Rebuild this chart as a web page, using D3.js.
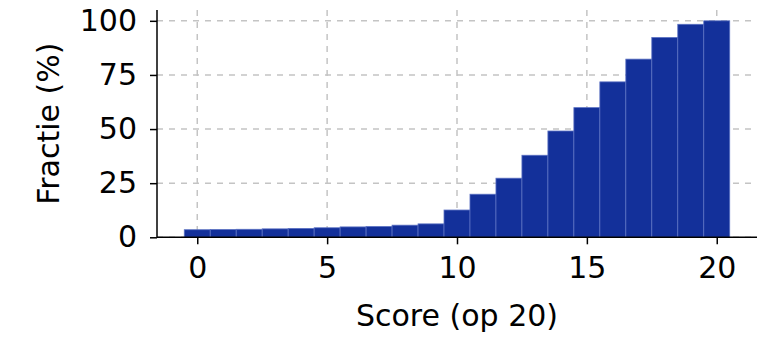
<!DOCTYPE html>
<html>
<head>
<meta charset="utf-8">
<script src="https://cdn.jsdelivr.net/npm/d3@7"></script>
<style>
    body { margin: 0; background: #fff; }
    svg { display: block; }
    text { font-family: "DejaVu Sans", sans-serif; fill: #000; }
    .grid line { stroke: #c4c4c4; stroke-width: 1.5; stroke-dasharray: 6, 6; }
</style>
</head>
<body>
<svg width="778" height="348"></svg>
<script>
// scores 0..20 and cumulative fraction (%)
var scores = d3.range(0, 21);
var fractions = [3.5, 3.6, 3.7, 3.9, 4.1, 4.4, 4.8, 5.0, 5.6, 6.2, 12.6,
    19.9, 27.3, 37.9, 49.1, 59.9, 71.8, 82.3, 92.3, 98.4, 100];
var xTicks = [0, 5, 10, 15, 20];
var yTicks = [0, 25, 50, 75, 100];

var svg = d3.select("svg"),
    plotLeft = 157, plotRight = 757,
    plotTop = 10, plotBottom = 237.3;

var x = d3.scaleLinear().domain([-1.55, 21.55]).range([plotLeft, plotRight]);
var y = d3.scaleLinear().domain([0, 105]).range([plotBottom, plotTop]);

var data = scores.map((s, i) => ({ score: s, value: fractions[i] }));

// grid
var grid = svg.append("g").attr("class", "grid");
grid.selectAll(".gx")
    .data(xTicks)
    .enter().append("line")
    .attr("x1", d => x(d)).attr("x2", d => x(d))
    .attr("y1", plotTop).attr("y2", plotBottom);
grid.selectAll(".gy")
    .data(yTicks)
    .enter().append("line")
    .attr("x1", plotLeft).attr("x2", plotRight)
    .attr("y1", d => y(d)).attr("y2", d => y(d));

// bars
svg.append("g").selectAll("rect")
    .data(data)
    .enter().append("rect")
    .attr("x", d => x(d.score - 0.5))
    .attr("width", d => x(d.score + 0.5) - x(d.score - 0.5))
    .attr("y", d => y(d.value))
    .attr("height", d => y(0) - y(d.value))
    .attr("fill", "#13309a")
    .attr("stroke", "#5a70c2")
    .attr("stroke-width", 0.8);

// axes
var xAxis = d3.axisBottom(x).tickValues(xTicks).tickSize(7).tickPadding(12);
var yAxis = d3.axisLeft(y).tickValues(yTicks).tickSize(7).tickPadding(13);

var gx = svg.append("g")
    .attr("transform", "translate(0," + plotBottom + ")")
    .call(xAxis);
var gy = svg.append("g")
    .attr("transform", "translate(" + plotLeft + ",0)")
    .call(yAxis);

[gx, gy].forEach(g => {
    g.select(".domain").remove();
    g.selectAll(".tick line").attr("stroke", "#000").attr("stroke-width", 1.5);
    g.selectAll(".tick text")
        .style("font-family", "DejaVu Sans")
        .style("font-size", "30px")
        .attr("fill", "#000");
});

// spines
svg.append("line")
    .attr("x1", plotLeft).attr("x2", plotLeft)
    .attr("y1", plotTop).attr("y2", plotBottom)
    .attr("stroke", "#000").attr("stroke-width", 1.5);
svg.append("line")
    .attr("x1", plotLeft).attr("x2", plotRight)
    .attr("y1", plotBottom).attr("y2", plotBottom)
    .attr("stroke", "#000").attr("stroke-width", 1.5);

// labels
svg.append("text")
    .attr("x", (plotLeft + plotRight) / 2)
    .attr("y", 326)
    .attr("text-anchor", "middle")
    .style("font-size", "30px")
    .text("Score (op 20)");

svg.append("text")
    .attr("transform", "translate(59," + (plotTop + plotBottom) / 2 + ") rotate(-90)")
    .attr("text-anchor", "middle")
    .style("font-size", "30px")
    .text("Fractie (%)");
</script>
</body>
</html>
